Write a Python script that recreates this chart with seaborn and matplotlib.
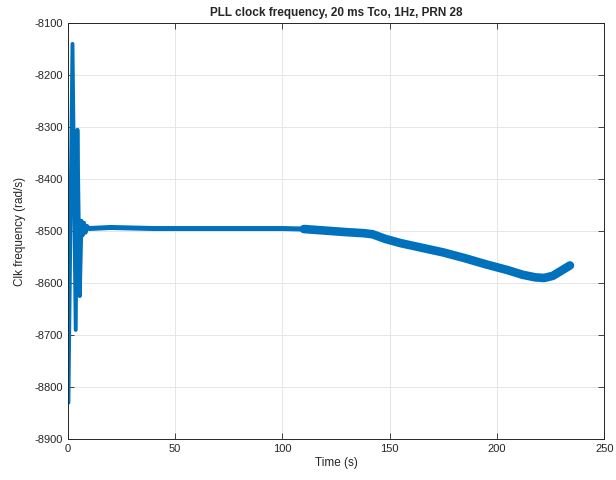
import matplotlib
matplotlib.use("Agg")
import matplotlib.pyplot as plt
import seaborn as sns

# start-up transient (s, rad/s)
t_trans = [0.3, 2.2, 3.7, 4.5, 5.6, 6.4, 7.0, 7.6, 8.3, 9.0, 10.0]
f_trans = [-8830, -8140, -8690, -8305, -8625, -8480, -8508, -8484, -8503, -8490, -8495]

# locked, flat part
t_flat = [10, 20, 30, 40, 50, 60, 70, 80, 90, 100, 110]
f_flat = [-8495, -8493, -8494, -8495, -8495, -8495, -8495, -8495, -8495, -8495, -8496]

# slow drift afterwards
t_drift = [110, 120, 130, 138, 142, 148, 155, 165, 175, 185, 195, 205, 212, 218, 222, 226, 230, 234]
f_drift = [-8496, -8499, -8502, -8504, -8506, -8515, -8523, -8532, -8541, -8552, -8564, -8575,
           -8584, -8589, -8590, -8586, -8576, -8566]

blue = "#0072BD"

sns.set_style("whitegrid")
plt.rcParams['font.family'] = ['Liberation Sans', 'DejaVu Sans']
plt.rcParams['axes.unicode_minus'] = False

fig = plt.figure(figsize=(6.16, 4.8), dpi=100)
ax = fig.add_axes([0.110, 0.085, 0.871, 0.867])

sns.lineplot(x=t_trans, y=f_trans, ax=ax, color=blue, lw=2.8, sort=False)
sns.lineplot(x=t_flat, y=f_flat, ax=ax, color=blue, lw=3.6, sort=False)
sns.lineplot(x=t_drift, y=f_drift, ax=ax, color=blue, lw=6.2, sort=False,
             solid_capstyle="round")

ax.set_xlim(0, 250)
ax.set_ylim(-8900, -8100)
ax.set_xticks(range(0, 251, 50))
ax.set_yticks(range(-8900, -8099, 100))

ax.grid(True, color="#e6e6e6", lw=0.7)
for s in ax.spines.values():
    s.set_color("#262626")
    s.set_linewidth(0.7)
ax.tick_params(direction="in", length=4, width=0.6, labelsize=8, colors="#262626",
               top=True, right=True, bottom=True, left=True)

ax.set_title("PLL clock frequency, 20 ms Tco, 1Hz, PRN 28", fontsize=8.5,
             fontweight="bold", pad=5)
ax.set_xlabel("Time (s)", fontsize=8.5, labelpad=2)
ax.set_ylabel("Clk frequency (rad/s)", fontsize=8.5, labelpad=6)

fig.savefig("out.png", dpi=100)
